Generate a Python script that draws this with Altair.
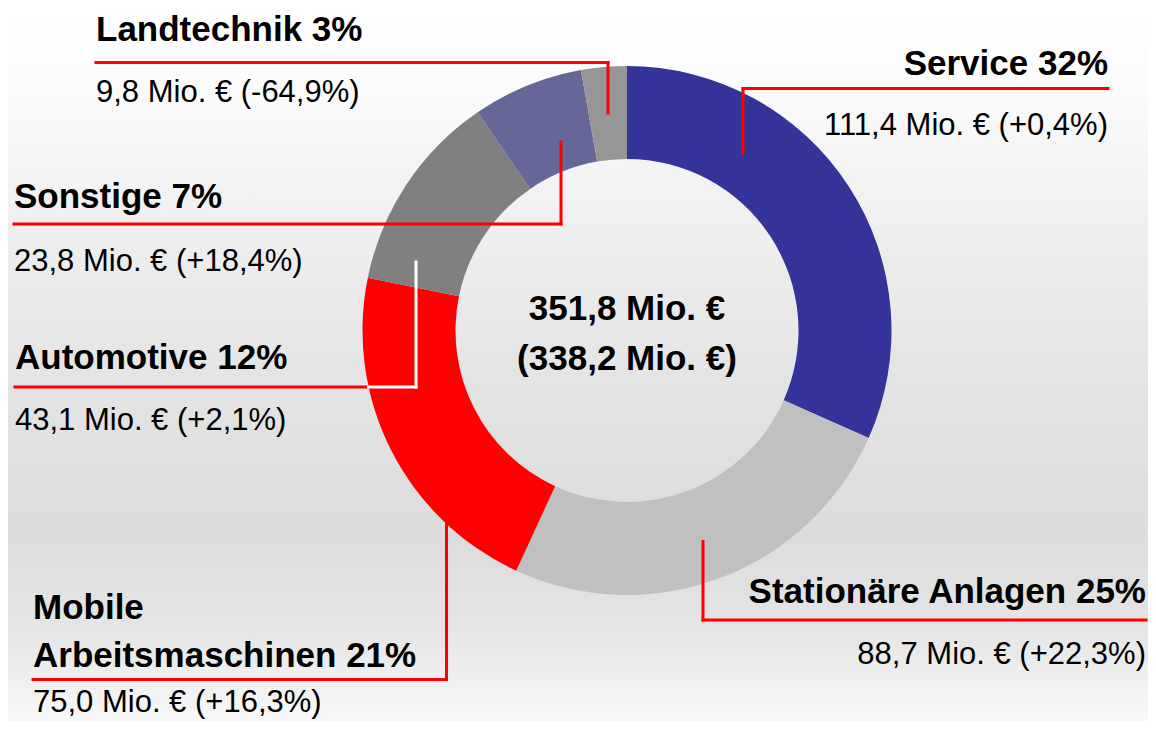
import math
import altair as alt
import pandas as pd

# ---------------- data ----------------
segments = ["Service", "Stationäre Anlagen", "Mobile Arbeitsmaschinen",
            "Automotive", "Sonstige", "Landtechnik"]
titles = ["Service 32%", "Stationäre Anlagen 25%", "Mobile\nArbeitsmaschinen 21%",
          "Automotive 12%", "Sonstige 7%", "Landtechnik 3%"]
values = [111.4, 88.7, 75.0, 43.1, 23.8, 9.8]
value_labels = ["111,4 Mio. € (+0,4%)", "88,7 Mio. € (+22,3%)", "75,0 Mio. € (+16,3%)",
                "43,1 Mio. € (+2,1%)", "23,8 Mio. € (+18,4%)", "9,8 Mio. € (-64,9%)"]
center_lines = ["351,8 Mio. €", "(338,2 Mio. €)"]

# ---------------- style / layout (reference pixel coordinates) ----------------
colors = ["#333399", "#c0c0c0", "#ff0000", "#808080", "#666699", "#969696"]
W, H = 1140, 713          # plot area; page margin 8px
OFF = 8
CX, CY = 627, 330.5       # donut centre
R_OUT, R_IN = 264.5, 171.5

text_x = [1108, 1146, 33, 15, 14, 96]
text_align = ["right", "right", "left", "left", "left", "left"]
title_y = [75, 603, 667, 369, 208, 40.5]      # baseline of last title line
title_lh = 48
value_y = [135, 664, 712, 429.5, 270.5, 101.5]
elbow_x = [743, 703, 446.5, 416, 561, 608]
elbow_y = [88.5, 620, 679.5, 387, 224, 62.5]
tip_y = [153, 541.5, 521.5, 262, 142, 113]
inside_color = ["#ff0000", "#ff0000", "#ff0000", "#ffffff", "#ff0000", "#ff0000"]
center_y = [320, 370]

FONT = "Liberation Sans"

# ---------------- tables ----------------
arc_df = pd.DataFrame({"segment": segments, "value": values,
                       "order": list(range(len(segments)))})

rows = []
for i in range(len(segments)):
    lines = titles[i].split("\n")
    n = len(lines)
    for k, ln in enumerate(lines):
        rows.append({"x": text_x[i], "y": title_y[i] - (n - 1 - k) * title_lh,
                     "t": ln, "align": text_align[i], "kind": "title"})
    rows.append({"x": text_x[i], "y": value_y[i], "t": value_labels[i],
                 "align": text_align[i], "kind": "value"})
for k, ln in enumerate(center_lines):
    rows.append({"x": CX, "y": center_y[k], "t": ln, "align": "center", "kind": "center"})
text_df = pd.DataFrame(rows)

segs = []
for i in range(len(segments)):
    ey = elbow_y[i]
    ex = elbow_x[i]
    tx = text_x[i]
    col_in = inside_color[i]
    if col_in != "#ff0000":
        dy = ey - CY
        xr = CX - math.sqrt(R_OUT ** 2 - dy ** 2) if abs(dy) < R_OUT else ex
        if tx < ex:
            segs.append((tx, ey, xr, ey, "#ff0000"))
            segs.append((xr, ey, ex, ey, col_in))
        else:
            xr = 2 * CX - xr
            segs.append((xr, ey, tx, ey, "#ff0000"))
            segs.append((ex, ey, xr, ey, col_in))
    else:
        segs.append((min(tx, ex), ey, max(tx, ex), ey, "#ff0000"))
    segs.append((ex, ey, ex, tip_y[i], col_in))
rule_df = pd.DataFrame(segs, columns=["x1", "y1", "x2", "y2", "col"])

xs = alt.Scale(domain=[OFF, OFF + W], nice=False, zero=False)
ys = alt.Scale(domain=[OFF, OFF + H], reverse=True, nice=False, zero=False)

# ---------------- layers ----------------
grad = alt.LinearGradient(
    gradient="linear", x1=0, y1=0, x2=0, y2=1,
    stops=[
        alt.GradientStop(offset=0.0, color="#ffffff"),
        alt.GradientStop(offset=0.10, color="#fcfcfc"),
        alt.GradientStop(offset=0.27, color="#f1f1f1"),
        alt.GradientStop(offset=0.52, color="#e4e4e4"),
        alt.GradientStop(offset=0.74, color="#dcdcdc"),
        alt.GradientStop(offset=0.88, color="#e6e6e6"),
        alt.GradientStop(offset=1.0, color="#f8f8f8"),
    ])
bg = alt.Chart(pd.DataFrame({"k": [0]})).mark_rect(fill=grad, strokeWidth=0).encode(
    x=alt.value(0), x2=alt.value(W), y=alt.value(0), y2=alt.value(H))

donut = alt.Chart(arc_df).mark_arc(radius=R_OUT, radius2=R_IN).encode(
    theta=alt.Theta("value:Q", stack=True),
    order=alt.Order("order:Q"),
    color=alt.Color("segment:N", scale=alt.Scale(domain=segments, range=colors), legend=None),
    x=alt.value(CX - OFF), y=alt.value(CY - OFF),
)

rules = alt.Chart(rule_df).mark_rule(strokeWidth=3, strokeCap="square").encode(
    x=alt.X("x1:Q", scale=xs, axis=None),
    y=alt.Y("y1:Q", scale=ys, axis=None),
    x2="x2:Q", y2="y2:Q",
    color=alt.Color("col:N", scale=None),
)


def text_layer(kind, align, size, weight):
    return alt.Chart(text_df).transform_filter(
        (alt.datum.kind == kind) & (alt.datum.align == align)
    ).mark_text(align=align, baseline="alphabetic", font=FONT, fontSize=size,
                fontWeight=weight, color="#000000").encode(
        x=alt.X("x:Q", scale=xs, axis=None),
        y=alt.Y("y:Q", scale=ys, axis=None),
        text="t:N",
    )


texts = [
    text_layer("title", "left", 35, "bold"),
    text_layer("title", "right", 35, "bold"),
    text_layer("value", "left", 31, "normal"),
    text_layer("value", "right", 31, "normal"),
    text_layer("center", "center", 35, "bold"),
]

chart = alt.layer(bg, donut, rules, *texts).properties(
    width=W, height=H, padding=0, autosize=alt.AutoSizeParams(type="none"),
    background="#ffffff",
).configure_view(stroke=None)

chart.save("out.html", embed_options={"renderer": "svg", "actions": False})
